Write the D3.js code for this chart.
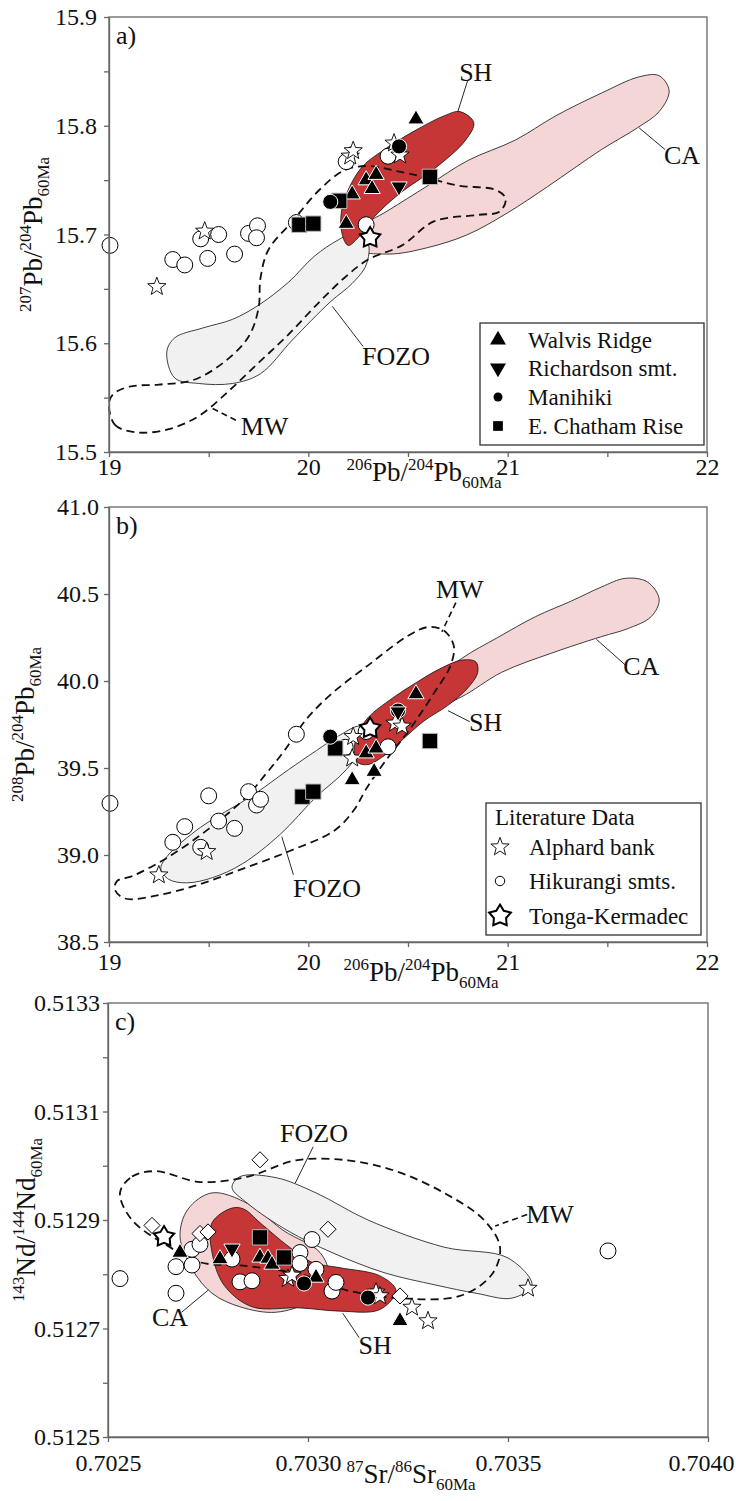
<!DOCTYPE html>
<html>
<head>
<meta charset="utf-8">
<script src="https://cdn.jsdelivr.net/npm/d3@7"></script>
<style>
  body { margin: 0; background: #fff; }
  svg text { font-family: "Liberation Serif", "DejaVu Serif", serif; fill: #111; }
</style>
</head>
<body>
<svg id="chart" width="736" height="1501"></svg>
<script>
// ---------- panel a: 206Pb/204Pb vs 207Pb/204Pb ----------
const walvisA = [[20.54,15.806],[20.29,15.750],[20.34,15.755],[20.32,15.742],[20.22,15.737],[20.19,15.710]];
const richardsonA = [[20.455,15.744]];
const manihikiA = [[20.11,15.730],[20.455,15.781]];
const chathamA = [[19.955,15.709],[20.025,15.710],[20.155,15.731],[20.61,15.753]];
const hikurangiA = [[19.005,15.690],[19.32,15.677],[19.38,15.672],[19.46,15.696],[19.55,15.700],[19.495,15.678],[19.63,15.682],[19.70,15.701],[19.745,15.708],[19.74,15.697],[19.94,15.711],[20.19,15.767],[20.40,15.772],[20.29,15.709]];
const alphardA = [[19.24,15.652],[19.48,15.703],[20.21,15.772],[20.225,15.777],[20.43,15.784],[20.46,15.773]];
const tongaA = [[20.31,15.697]];
const shA = [[20.17,15.700],[20.17,15.725],[20.26,15.760],[20.38,15.778],[20.54,15.796],[20.68,15.809],[20.76,15.813],[20.83,15.803],[20.79,15.787],[20.63,15.760],[20.46,15.738],[20.33,15.716],[20.25,15.697],[20.20,15.690]];
const caA = [[20.20,15.688],[20.40,15.682],[20.60,15.688],[20.80,15.700],[21.00,15.720],[21.20,15.744],[21.47,15.778],[21.65,15.798],[21.76,15.813],[21.81,15.832],[21.76,15.846],[21.66,15.845],[21.47,15.830],[21.24,15.809],[21.04,15.787],[20.80,15.768],[20.60,15.745],[20.40,15.722],[20.25,15.705]];
const fozoA = [[19.29,15.592],[19.33,15.605],[19.47,15.614],[19.62,15.622],[19.75,15.635],[19.90,15.656],[20.03,15.680],[20.15,15.695],[20.24,15.702],[20.30,15.692],[20.29,15.672],[20.22,15.655],[20.11,15.638],[19.92,15.603],[19.76,15.572],[19.62,15.563],[19.45,15.563],[19.33,15.568]];
const mwA = [[19.00,15.545],[19.03,15.525],[19.14,15.518],[19.30,15.521],[19.45,15.533],[19.60,15.556],[19.75,15.582],[19.90,15.608],[20.05,15.637],[20.18,15.660],[20.30,15.677],[20.47,15.690],[20.63,15.712],[20.85,15.718],[20.96,15.721],[20.99,15.733],[20.94,15.741],[20.75,15.745],[20.60,15.752],[20.45,15.758],[20.30,15.763],[20.18,15.759],[20.05,15.740],[19.92,15.712],[19.80,15.686],[19.76,15.660],[19.75,15.632],[19.70,15.606],[19.58,15.583],[19.42,15.566],[19.25,15.562],[19.10,15.560],[19.02,15.553]];

// ---------- panel b: 206Pb/204Pb vs 208Pb/204Pb ----------
const walvisB = [[20.54,39.925],[20.29,39.585],[20.34,39.613],[20.22,39.431],[20.33,39.479]];
const richardsonB = [[20.45,39.824]];
const manihikiB = [[20.11,39.68],[20.45,39.83]];
const chathamB = [[19.97,39.335],[20.025,39.364],[20.135,39.613],[20.61,39.655]];
const hikurangiB = [[19.005,39.297],[19.32,39.073],[19.38,39.163],[19.46,39.044],[19.50,39.34],[19.55,39.195],[19.63,39.153],[19.70,39.364],[19.74,39.287],[19.76,39.32],[19.94,39.694],[20.185,39.619],[20.29,39.71],[20.40,39.622]];
const alphardB = [[19.25,38.885],[19.49,39.019],[20.22,39.556],[20.225,39.68],[20.435,39.757],[20.47,39.74]];
const tongaB = [[20.31,39.728]];
const shB = [[20.23,39.60],[20.25,39.70],[20.30,39.79],[20.42,39.90],[20.54,39.99],[20.66,40.07],[20.77,40.12],[20.84,40.11],[20.85,40.05],[20.80,39.96],[20.70,39.86],[20.58,39.77],[20.46,39.65],[20.38,39.57],[20.30,39.52],[20.25,39.53]];
const caB = [[20.60,39.97],[20.77,40.13],[20.95,40.25],[21.14,40.37],[21.32,40.46],[21.47,40.54],[21.59,40.59],[21.70,40.57],[21.76,40.47],[21.72,40.37],[21.60,40.30],[21.47,40.255],[21.22,40.16],[20.97,40.05],[20.77,39.91],[20.65,39.86]];
const fozoB = [[19.26,38.92],[19.29,38.99],[19.46,39.16],[19.71,39.335],[19.90,39.49],[20.04,39.60],[20.16,39.69],[20.26,39.74],[20.30,39.68],[20.19,39.49],[20.04,39.335],[19.86,39.12],[19.67,38.95],[19.52,38.87],[19.39,38.84],[19.30,38.86]];
const mwB = [[19.03,38.80],[19.08,38.75],[19.25,38.77],[19.45,38.83],[19.67,38.92],[19.90,39.02],[20.13,39.14],[20.23,39.26],[20.29,39.38],[20.39,39.545],[20.52,39.74],[20.63,39.93],[20.71,40.08],[20.73,40.20],[20.68,40.29],[20.60,40.31],[20.50,40.26],[20.30,40.09],[20.12,39.93],[19.99,39.78],[19.88,39.60],[19.79,39.47],[19.69,39.335],[19.50,39.15],[19.30,38.99],[19.12,38.88],[19.04,38.85]];

// ---------- panel c: 87Sr/86Sr vs 143Nd/144Nd ----------
const walvisC = [[0.70268,0.512840],[0.70278,0.512828],[0.70288,0.512831],[0.70290,0.512829],[0.70291,0.512818],[0.70302,0.512794],[0.70323,0.512714]];
const richardsonC = [[0.70281,0.512847]];
const manihikiC = [[0.70299,0.512783],[0.70315,0.512757]];
const chathamC = [[0.70288,0.512868],[0.70294,0.512831]];
const hikurangiC = [[0.70253,0.512792],[0.70267,0.512814],[0.70267,0.512765],[0.70271,0.512817],[0.70271,0.512846],[0.70273,0.512855],[0.70281,0.512828],[0.70283,0.512786],[0.70286,0.512788],[0.70298,0.512840],[0.70298,0.512820],[0.70301,0.512864],[0.70302,0.512809],[0.70306,0.512769],[0.70307,0.512785],[0.70375,0.512843]];
const diamondC = [[0.70261,0.512890],[0.70273,0.512875],[0.70275,0.512878],[0.70288,0.513011],[0.70305,0.512883],[0.70323,0.512760]];
const alphardC = [[0.70295,0.512792],[0.70296,0.512798],[0.70317,0.512767],[0.70318,0.512760],[0.70326,0.512739],[0.70330,0.512714],[0.70355,0.512774]];
const tongaC = [[0.70264,0.512869]];
const shC = [[0.70281,0.512922],[0.70276,0.512895],[0.70276,0.512840],[0.70279,0.512780],[0.70286,0.512740],[0.70298,0.512738],[0.70308,0.512732],[0.70318,0.512735],[0.70322,0.512770],[0.70318,0.512797],[0.70308,0.512812],[0.70301,0.512822],[0.70295,0.512852],[0.70288,0.512895],[0.70284,0.512920]];
const caC = [[0.70276,0.512950],[0.70270,0.512920],[0.70268,0.512870],[0.70271,0.512810],[0.70276,0.512765],[0.70283,0.512740],[0.70292,0.512730],[0.70300,0.512750],[0.70305,0.512800],[0.70303,0.512840],[0.70294,0.512880],[0.70285,0.512930]];
const fozoC = [[0.70283,0.512980],[0.70281,0.512960],[0.70285,0.512930],[0.70295,0.512880],[0.70306,0.512840],[0.70319,0.512803],[0.70332,0.512780],[0.70342,0.512765],[0.70351,0.512756],[0.70356,0.512780],[0.70350,0.512830],[0.70334,0.512850],[0.70315,0.512900],[0.70302,0.512950],[0.70292,0.512978]];
const mwC = [[0.70253,0.512950],[0.70256,0.512980],[0.70262,0.512990],[0.70273,0.512970],[0.70285,0.512980],[0.70297,0.513010],[0.70310,0.513010],[0.70322,0.512990],[0.70334,0.512950],[0.70344,0.512900],[0.70348,0.512850],[0.70346,0.512800],[0.70338,0.512760],[0.70323,0.512756],[0.70310,0.512770],[0.70298,0.512800],[0.70285,0.512815],[0.70273,0.512822],[0.70265,0.512852],[0.70256,0.512900]];

// ---------- axes ----------
const xTicksAB = [19, 19.5, 20, 20.5, 21, 21.5, 22];
const yTicksA = [15.5, 15.55, 15.6, 15.65, 15.7, 15.75, 15.8, 15.85, 15.9];
const yTicksB = [38.5, 39.0, 39.5, 40.0, 40.5, 41.0];
const xTicksC = [0.7025, 0.7030, 0.7035, 0.7040];
const yTicksC = [0.5125, 0.5126, 0.5127, 0.5128, 0.5129, 0.5130, 0.5131, 0.5132, 0.5133];

// field labels: text anchor + leader line, in data units
const labelsA = [
  { text: 'SH', at: [20.84, 15.841], line: [[20.80, 15.842], [20.75, 15.813]] },
  { text: 'CA', at: [21.875, 15.765], line: [[21.66, 15.798], [21.79, 15.778]] },
  { text: 'FOZO', at: [20.44, 15.580], line: [[20.12, 15.634], [20.275, 15.597]] },
  { text: 'MW', at: [19.78, 15.516], line: [[19.52, 15.540], [19.65, 15.528]], dashed: true },
];
const labelsB = [
  { text: 'MW', at: [20.76, 40.477], line: [[20.74, 40.45], [20.67, 40.283]], dashed: true },
  { text: 'CA', at: [21.67, 40.034], line: [[21.445, 40.24], [21.59, 40.092]] },
  { text: 'SH', at: [20.89, 39.714], line: [[20.70, 39.83], [20.81, 39.766]] },
  { text: 'FOZO', at: [20.094, 38.76], line: [[19.867, 39.105], [19.925, 38.887]] },
];
const labelsC = [
  { text: 'FOZO', at: [0.703015, 0.5130436], line: [[0.703013, 0.513035], [0.702968, 0.512968]] },
  { text: 'CA', at: [0.702655, 0.512705], line: [[0.702684, 0.51273], [0.702751, 0.512771]] },
  { text: 'SH', at: [0.703168, 0.512653], line: [[0.703128, 0.512683], [0.703087, 0.512728]] },
  { text: 'MW', at: [0.703605, 0.512894], line: [[0.703548, 0.51291], [0.703468, 0.512889]], dashed: true },
];

const FIELD_COLORS = { ca: '#f4d6d6', fozo: '#f1f1f1', sh: '#c63636' };

// ---------- symbol shapes ----------
function starShape(k) {
  return {
    draw(ctx, size) {
      const r = Math.sqrt(size);
      for (let i = 0; i < 10; i++) {
        const a = -Math.PI / 2 + i * Math.PI / 5;
        const rr = i % 2 ? r * k : r;
        if (i === 0) ctx.moveTo(rr * Math.cos(a), rr * Math.sin(a));
        else ctx.lineTo(rr * Math.cos(a), rr * Math.sin(a));
      }
      ctx.closePath();
    }
  };
}
function triShape(dir) {
  return {
    draw(ctx, size) {
      const s = Math.sqrt(size * 4 / Math.sqrt(3));
      const h = s * Math.sqrt(3) / 2;
      ctx.moveTo(0, -dir * 2 * h / 3);
      ctx.lineTo(s / 2, dir * h / 3);
      ctx.lineTo(-s / 2, dir * h / 3);
      ctx.closePath();
    }
  };
}
const diamondShape = {
  draw(ctx, size) {
    const r = Math.sqrt(size / 2);
    ctx.moveTo(0, -r); ctx.lineTo(r, 0); ctx.lineTo(0, r); ctx.lineTo(-r, 0);
    ctx.closePath();
  }
};

const STYLE = {
  hikurangi: { type: d3.symbolCircle, size: 200, fill: '#fff', stroke: '#000', sw: 1 },
  alphard: { type: starShape(0.42), size: 92, fill: '#fff', stroke: '#000', sw: 0.9 },
  diamond: { type: diamondShape, size: 130, fill: '#fff', stroke: '#000', sw: 1 },
  tonga: { type: starShape(0.56), size: 115, fill: '#fff', stroke: '#000', sw: 2 },
  walvis: { type: triShape(1), size: 115, fill: '#000', stroke: '#fff', sw: 1 },
  chatham: { type: d3.symbolSquare, size: 235, fill: '#000', stroke: '#bbb', sw: 1 },
  manihiki: { type: d3.symbolCircle, size: 180, fill: '#000', stroke: '#fff', sw: 1 },
  richardson: { type: triShape(-1), size: 115, fill: '#000', stroke: '#fff', sw: 1 },
};

const panels = [
  {
    name: 'a)', left: 109, top: 17, w: 598, h: 435,
    xDomain: [19, 22], yDomain: [15.5, 15.9], xTicks: xTicksAB, yTicks: yTicksA,
    xFmt: d => Number.isInteger(d) ? String(d) : '',
    yFmt: d => Math.abs(d * 10 - Math.round(d * 10)) < 1e-6 ? d.toFixed(1) : '',
    xPad: 1, yPad: 7, lastDx: 0,
    fields: { ca: caA, fozo: fozoA, sh: shA, mw: mwA }, labels: labelsA,
    series: [['hikurangi', hikurangiA], ['alphard', alphardA], ['tonga', tongaA], ['walvis', walvisA], ['chatham', chathamA], ['manihiki', manihikiA], ['richardson', richardsonA]],
    xTitle: [['206', 'sup'], ['Pb/'], ['204', 'sup'], ['Pb'], ['60Ma', 'sub']], xTitleAt: [315, 464],
    yTitle: [['207', 'sup'], ['Pb/'], ['204', 'sup'], ['Pb'], ['60Ma', 'sub']], yTitleX: -67,
    legend: 'samples'
  },
  {
    name: 'b)', left: 109, top: 507, w: 598, h: 435,
    xDomain: [19, 22], yDomain: [38.5, 41.0], xTicks: xTicksAB, yTicks: yTicksB,
    xFmt: d => Number.isInteger(d) ? String(d) : '',
    yFmt: d => d.toFixed(1),
    xPad: 6, yPad: 5, lastDx: 0,
    fields: { ca: caB, fozo: fozoB, sh: shB, mw: mwB }, labels: labelsB,
    series: [['hikurangi', hikurangiB], ['alphard', alphardB], ['tonga', tongaB], ['walvis', walvisB], ['chatham', chathamB], ['manihiki', manihikiB], ['richardson', richardsonB]],
    xTitle: [['206', 'sup'], ['Pb/'], ['204', 'sup'], ['Pb'], ['60Ma', 'sub']], xTitleAt: [312, 474],
    yTitle: [['208', 'sup'], ['Pb/'], ['204', 'sup'], ['Pb'], ['60Ma', 'sub']], yTitleX: -75,
    legend: 'literature'
  },
  {
    name: 'c)', left: 108, top: 1003, w: 600, h: 434,
    xDomain: [0.7025, 0.7040], yDomain: [0.5125, 0.5133], xTicks: xTicksC, yTicks: yTicksC,
    xFmt: d => d.toFixed(4),
    yFmt: (d, i) => i % 2 === 0 ? d.toFixed(4) : '',
    xPad: 12, yPad: 3, lastDx: -7,
    fields: { ca: caC, fozo: fozoC, sh: shC, mw: mwC }, labels: labelsC,
    series: [['hikurangi', hikurangiC], ['diamond', diamondC], ['alphard', alphardC], ['tonga', tongaC], ['walvis', walvisC], ['chatham', chathamC], ['manihiki', manihikiC], ['richardson', richardsonC]],
    xTitle: [['87', 'sup'], ['Sr/'], ['86', 'sup'], ['Sr'], ['60Ma', 'sub']], xTitleAt: [303, 480],
    yTitle: [['143', 'sup'], ['Nd/'], ['144', 'sup'], ['Nd'], ['60Ma', 'sub']], yTitleX: -73,
    legend: null
  }
];

const svg = d3.select('#chart');

function richText(text, parts, big, small) {
  let shift = 0;
  parts.forEach(([t, k]) => {
    const target = k === 'sup' ? -11 : k === 'sub' ? 7 : 0;
    text.append('tspan')
      .attr('font-size', k ? small : big)
      .attr('dy', target - shift)
      .text(t);
    shift = target;
  });
}

function drawPanel(p) {
  const g = svg.append('g').attr('transform', `translate(${p.left},${p.top})`);
  const x = d3.scaleLinear().domain(p.xDomain).range([0, p.w]);
  const y = d3.scaleLinear().domain(p.yDomain).range([p.h, 0]);

  // fields
  const outline = d3.line().x(d => x(d[0])).y(d => y(d[1])).curve(d3.curveCatmullRomClosed.alpha(0.5));
  ['ca', 'fozo', 'sh'].forEach(k => {
    g.append('path')
      .attr('d', outline(p.fields[k]))
      .attr('fill', FIELD_COLORS[k])
      .attr('stroke', '#111')
      .attr('stroke-width', 0.8);
  });
  g.append('path')
    .attr('d', outline(p.fields.mw))
    .attr('fill', 'none')
    .attr('stroke', '#111')
    .attr('stroke-width', 1.8)
    .attr('stroke-dasharray', '8,5');

  // field labels
  p.labels.forEach(l => {
    g.append('line')
      .attr('x1', x(l.line[0][0])).attr('y1', y(l.line[0][1]))
      .attr('x2', x(l.line[1][0])).attr('y2', y(l.line[1][1]))
      .attr('stroke', '#111')
      .attr('stroke-width', l.dashed ? 1.6 : 0.9)
      .attr('stroke-dasharray', l.dashed ? '6,4' : null);
    g.append('text')
      .attr('x', x(l.at[0])).attr('y', y(l.at[1]))
      .attr('text-anchor', 'middle')
      .attr('font-size', 26)
      .text(l.text);
  });

  // samples
  p.series.forEach(([key, data]) => {
    const st = STYLE[key];
    g.selectAll(null)
      .data(data)
      .join('path')
      .attr('transform', d => `translate(${x(d[0])},${y(d[1])})`)
      .attr('d', d3.symbol().type(st.type).size(st.size))
      .attr('fill', st.fill)
      .attr('stroke', st.stroke)
      .attr('stroke-width', st.sw);
  });

  // frame + axes
  g.append('rect')
    .attr('width', p.w).attr('height', p.h)
    .attr('fill', 'none').attr('stroke', '#666').attr('stroke-width', 1.3);

  const xAxis = g.append('g')
    .attr('transform', `translate(0,${p.h})`)
    .call(d3.axisBottom(x).tickValues(p.xTicks).tickFormat(p.xFmt).tickSize(5).tickSizeOuter(0).tickPadding(p.xPad));
  const yAxis = g.append('g')
    .call(d3.axisLeft(y).tickValues(p.yTicks).tickFormat(p.yFmt).tickSize(5).tickSizeOuter(0).tickPadding(p.yPad));
  [xAxis, yAxis].forEach(a => {
    a.attr('font-size', 24);
    a.select('.domain').attr('stroke', '#666').attr('stroke-width', 1.3);
    a.selectAll('line').attr('stroke', '#666').attr('stroke-width', 1.3);
    a.selectAll('text').attr('fill', '#111');
  });
  // keep the right-most tick label inside the page
  xAxis.selectAll('.tick text').filter((d, i, n) => i === n.length - 1).attr('dx', p.lastDx);

  // panel letter
  g.append('text')
    .attr('x', 7).attr('y', 27)
    .attr('font-size', 26)
    .text(p.name);

  // axis titles
  const xt = g.append('text')
    .attr('x', p.xTitleAt[0]).attr('y', p.xTitleAt[1])
    .attr('text-anchor', 'middle');
  richText(xt, p.xTitle, 27, 17);
  const yt = g.append('text')
    .attr('transform', `translate(${p.yTitleX},${p.h / 2}) rotate(-90)`)
    .attr('text-anchor', 'middle');
  richText(yt, p.yTitle, 27, 17);

  if (p.legend === 'samples') drawSampleLegend(g);
  if (p.legend === 'literature') drawLiteratureLegend(g);
}

function legendRows(g, rows, symX, textX) {
  rows.forEach(r => {
    g.append('path')
      .attr('transform', `translate(${symX},${r.y})`)
      .attr('d', d3.symbol().type(r.st.type).size(r.size))
      .attr('fill', r.st.fill)
      .attr('stroke', r.st.fill === '#000' ? 'none' : r.st.stroke)
      .attr('stroke-width', r.st.sw);
    g.append('text')
      .attr('x', textX).attr('y', r.y).attr('dy', '0.35em')
      .attr('font-size', 23)
      .text(r.label);
  });
}

function drawSampleLegend(g) {
  const box = g.append('g').attr('transform', 'translate(371,306)');
  box.append('rect').attr('width', 224).attr('height', 122)
    .attr('fill', '#fff').attr('stroke', '#333').attr('stroke-width', 1.3);
  legendRows(box, [
    { label: 'Walvis Ridge', st: STYLE.walvis, size: 110, y: 17 },
    { label: 'Richardson smt.', st: STYLE.richardson, size: 110, y: 45 },
    { label: 'Manihiki', st: STYLE.manihiki, size: 64, y: 74 },
    { label: 'E. Chatham Rise', st: STYLE.chatham, size: 95, y: 103 },
  ], 18, 48);
}

function drawLiteratureLegend(g) {
  const box = g.append('g').attr('transform', 'translate(377,296)');
  box.append('rect').attr('width', 215).attr('height', 132)
    .attr('fill', '#fff').attr('stroke', '#333').attr('stroke-width', 1.3);
  box.append('text')
    .attr('x', 9).attr('y', 14).attr('dy', '0.35em')
    .attr('font-size', 23)
    .text('Literature Data');
  legendRows(box, [
    { label: 'Alphard bank', st: STYLE.alphard, size: 92, y: 44 },
    { label: 'Hikurangi smts.', st: STYLE.hikurangi, size: 70, y: 78 },
    { label: 'Tonga-Kermadec', st: STYLE.tonga, size: 130, y: 113 },
  ], 14, 43);
}

panels.forEach(drawPanel);
</script>
</body>
</html>
